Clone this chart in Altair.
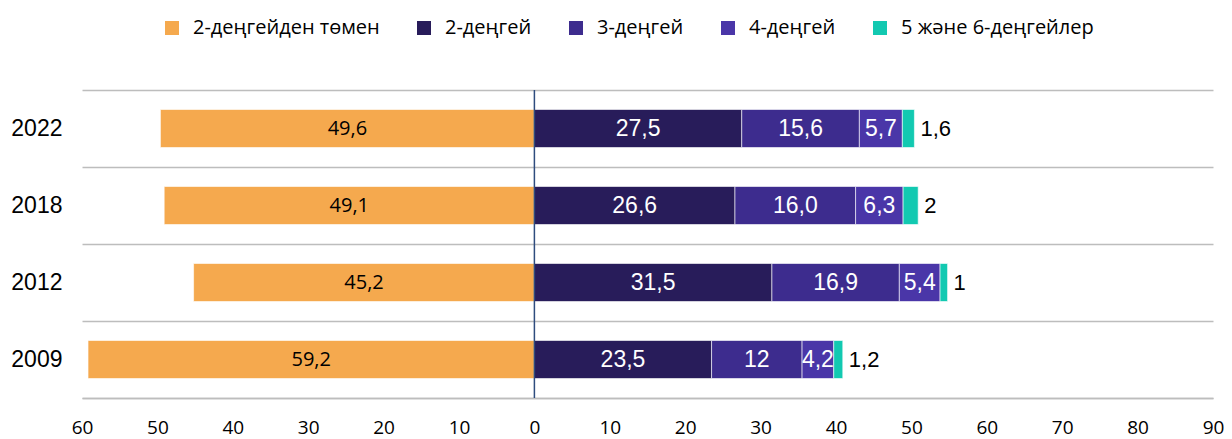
import altair as alt
import pandas as pd

years = ["2022", "2018", "2012", "2009"]
categories = ["2-деңгейден төмен", "2-деңгей", "3-деңгей", "4-деңгей", "5 және 6-деңгейлер"]
colors = ["#F5A94E", "#281C5A", "#3D2C8E", "#4A36A8", "#12C9B1"]

below2 = [49.6, 49.1, 45.2, 59.2]
level2 = [27.5, 26.6, 31.5, 23.5]
level3 = [15.6, 16.0, 16.9, 12.0]
level4 = [5.7, 6.3, 5.4, 4.2]
level56 = [1.6, 2.0, 1.0, 1.2]

below2_lbl = ["49,6", "49,1", "45,2", "59,2"]
level2_lbl = ["27,5", "26,6", "31,5", "23,5"]
level3_lbl = ["15,6", "16,0", "16,9", "12"]
level4_lbl = ["5,7", "6,3", "5,4", "4,2"]
level56_lbl = ["1,6", "2", "1", "1,2"]

rows = []
for i, y in enumerate(years):
    rows.append(dict(year=y, cat=categories[0], start=-below2[i], end=0.0, label=below2_lbl[i], kind="neg"))
    pos = 0.0
    for c, vals, lbls in [(categories[1], level2, level2_lbl), (categories[2], level3, level3_lbl),
                          (categories[3], level4, level4_lbl), (categories[4], level56, level56_lbl)]:
        kind = "out" if c == categories[4] else "in"
        rows.append(dict(year=y, cat=c, start=pos, end=pos + vals[i], label=lbls[i], kind=kind))
        pos += vals[i]
df = pd.DataFrame(rows)
df["mid"] = (df["start"] + df["end"]) / 2

yenc = alt.Y("year:N", sort=years, title=None,
             scale=alt.Scale(paddingInner=0, paddingOuter=0),
             axis=alt.Axis(grid=True, tickBand="extent", gridColor="#BDBDBD", gridWidth=1.5,
                           domain=False, ticks=False, labelFont="Liberation Sans", labelFontSize=23,
                           labelColor="#000000", labelPadding=20))

xscale = alt.Scale(domain=[-60, 90], nice=False, zero=False)

bars = alt.Chart(df).mark_bar(size=38, stroke="#ffffff", strokeWidth=0.6).encode(
    x=alt.X("start:Q", scale=xscale, title=None,
            axis=alt.Axis(values=list(range(-60, 91, 10)), labelExpr="abs(datum.value)",
                          grid=False, ticks=False, domainColor="#BDBDBD", domainWidth=1.5,
                          labelFont="Open Sans", labelFontSize=19, labelColor="#000000",
                          labelPadding=20, labelOverlap=False, labelBound=False, labelFlush=False)),
    x2="end:Q",
    y=yenc,
    color=alt.Color("cat:N", scale=alt.Scale(domain=categories, range=colors), title=None,
                    legend=alt.Legend(orient="none", legendX=80, legendY=-72, direction="horizontal",
                                      symbolType="square", symbolSize=196, symbolStrokeWidth=0,
                                      labelFont="Open Sans", labelFontSize=20, labelColor="#000000",
                                      labelLimit=400, columnPadding=34, labelOffset=11)),
)

txt_in = alt.Chart(df[df["kind"] == "in"]).mark_text(
    color="#ffffff", font="Liberation Sans", fontSize=23).encode(
    x=alt.X("mid:Q", scale=xscale), y=alt.Y("year:N", sort=years), text="label:N")

txt_neg = alt.Chart(df[df["kind"] == "neg"]).mark_text(
    color="#000000", font="Open Sans", fontSize=20).encode(
    x=alt.X("mid:Q", scale=xscale), y=alt.Y("year:N", sort=years), text="label:N")

txt_out = alt.Chart(df[df["kind"] == "out"]).mark_text(
    color="#000000", font="Liberation Sans", fontSize=22, align="left", dx=6).encode(
    x=alt.X("end:Q", scale=xscale), y=alt.Y("year:N", sort=years), text="label:N")

zero = alt.Chart(pd.DataFrame({"z": [0]})).mark_rule(color="#2E4C7E", strokeWidth=1.5).encode(
    x=alt.X("z:Q", scale=xscale))

chart = alt.layer(bars, txt_in, txt_neg, txt_out, zero).properties(
    width=1131, height=308,
    autosize=alt.AutoSizeParams(type="none"),
    padding={"left": 74, "top": 82, "right": 11, "bottom": 41},
).configure_view(stroke=None)

chart.save("out.html", embed_options={"renderer": "svg", "actions": False})
